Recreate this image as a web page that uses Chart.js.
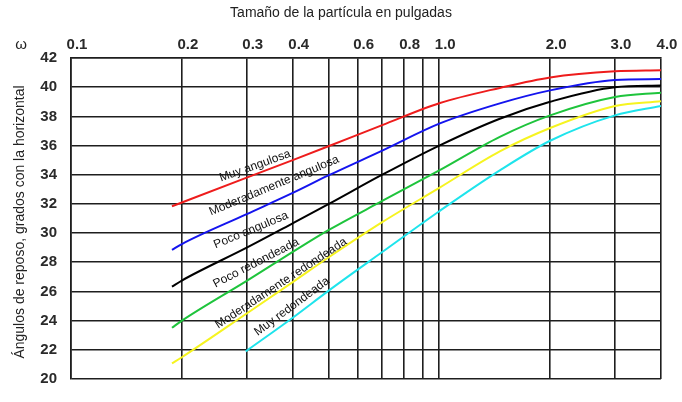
<!DOCTYPE html>
<html>
<head>
<meta charset="utf-8">
<script src="https://cdn.jsdelivr.net/npm/chart.js@4/dist/chart.umd.min.js"></script>
<style>
  html, body { margin: 0; padding: 0; background: #fff; }
  #wrap { width: 682px; height: 402px; }
</style>
</head>
<body>
<div id="wrap"><canvas id="c"></canvas></div>
<script>
// tamaños de partícula (pulgadas)
const sizes = [0.188, 0.2, 0.3, 0.4, 0.5, 0.7, 1.0, 1.46, 2.0, 3.0, 4.0];
const sizesMuyRedondeada = [0.298, 0.4, 0.5, 0.7, 1.0, 1.46, 2.0, 3.0, 4.0];

// ángulos de reposo (grados)
const muyAngulosa = [31.84, 32.1, 33.8, 35.0, 35.95, 37.4, 38.9, 39.95, 40.67, 41.09, 41.16];
const moderadamenteAngulosa = [28.85, 29.25, 31.3, 32.75, 33.95, 35.65, 37.5, 38.89, 39.78, 40.49, 40.56];
const pocoAngulosa = [26.33, 26.75, 29.0, 30.67, 31.98, 34.0, 36.0, 37.84, 39.0, 40.0, 40.11];
const pocoRedondeada = [23.51, 24.0, 26.73, 28.71, 30.2, 32.2, 34.3, 36.6, 38.07, 39.33, 39.62];
const moderadamenteRedondeada = [21.07, 21.49, 24.49, 26.64, 28.33, 30.75, 33.1, 35.6, 37.2, 38.71, 39.04];
const muyRedondeada = [21.89, 24.2, 26.04, 28.7, 31.5, 34.3, 36.33, 38.07, 38.71];

// ejes
const gridSizes = [0.1, 0.2, 0.3, 0.4, 0.5, 0.6, 0.7, 0.8, 0.9, 1.0, 2.0, 3.0, 4.0];
const sizeLabels = { 0.1: "0.1", 0.2: "0.2", 0.3: "0.3", 0.4: "0.4", 0.6: "0.6", 0.8: "0.8", 1: "1.0", 2: "2.0", 3: "3.0", 4: "4.0" };

const FONT = "'Liberation Sans', Arial, sans-serif";

function pts(xs, ys) {
  return xs.map((x, i) => ({ x: x, y: ys[i] }));
}

const series = [
  { name: "Muy angulosa", xs: sizes, ys: muyAngulosa, color: "#ee1c1c", at: [0.316, 34.6], rot: -19.5 },
  { name: "Moderadamente angulosa", xs: sizes, ys: moderadamenteAngulosa, color: "#1414ee", at: [0.356, 33.25], rot: -22.6 },
  { name: "Poco angulosa", xs: sizes, ys: pocoAngulosa, color: "#000000", at: [0.308, 30.2], rot: -22.6 },
  { name: "Poco redondeada", xs: sizes, ys: pocoRedondeada, color: "#1ec43c", at: [0.318, 27.95], rot: -27.3 },
  { name: "Moderadamente redondeada", xs: sizes, ys: moderadamenteRedondeada, color: "#f6f420", at: [0.372, 26.56], rot: -33.4 },
  { name: "Muy redondeada", xs: sizesMuyRedondeada, ys: muyRedondeada, color: "#1ee4ec", at: [0.398, 24.97], rot: -36.7 }
];

// textos fijos y etiquetas de curvas
const textPlugin = {
  id: "textos",
  afterDraw(chart) {
    const ctx = chart.ctx;
    const xs = chart.scales.x, ys = chart.scales.y;
    ctx.save();
    ctx.fillStyle = "#222";
    ctx.textAlign = "center";
    ctx.textBaseline = "middle";
    ctx.font = "14px " + FONT;
    ctx.fillText("Tamaño de la partícula en pulgadas", 341, 13);
    ctx.font = "15px " + FONT;
    ctx.fillText("ω", 21, 45);

    ctx.save();
    ctx.font = "14px " + FONT;
    ctx.translate(20, 222);
    ctx.rotate(-Math.PI / 2);
    ctx.fillText("Ángulos de reposo, grados con la horizontal", 0, 0);
    ctx.restore();

    ctx.font = "12px " + FONT;
    ctx.fillStyle = "#111";
    series.forEach(s => {
      const px = xs.getPixelForValue(s.at[0]);
      const py = ys.getPixelForValue(s.at[1]);
      ctx.save();
      ctx.translate(px, py);
      ctx.rotate(s.rot * Math.PI / 180);
      ctx.fillText(s.name, 0, 0);
      ctx.restore();
    });
    ctx.restore();
  }
};

new Chart(document.getElementById("c"), {
  type: "line",
  data: {
    datasets: series.map(s => ({
      label: s.name,
      data: pts(s.xs, s.ys),
      borderColor: s.color,
      borderWidth: 2,
      pointRadius: 0,
      fill: false,
      cubicInterpolationMode: "monotone"
    }))
  },
  options: {
    responsive: true,
    maintainAspectRatio: false,
    animation: false,
    layout: { padding: { top: 0, left: 0, right: 21, bottom: 12 } },
    plugins: {
      legend: { display: false },
      tooltip: { enabled: false },
      title: { display: false }
    },
    scales: {
      x: {
        type: "logarithmic",
        position: "top",
        min: 0.1,
        max: 4.0,
        afterBuildTicks: scale => {
          scale.ticks = gridSizes.map(v => ({ value: v }));
        },
        afterFit: scale => { scale.height = 58; },
        ticks: {
          autoSkip: false,
          maxRotation: 0,
          padding: 4,
          labelOffset: 6,
          color: "#2a2a2a",
          font: { family: FONT, size: 15, weight: "bold" },
          callback: v => sizeLabels[Math.round(v * 10) / 10] || ""
        },
        grid: { color: "#1e1e1e", lineWidth: 1.6, drawTicks: false },
        border: { color: "#1e1e1e", width: 1.6 }
      },
      y: {
        min: 20,
        max: 42,
        afterFit: scale => { scale.width = 71; },
        ticks: {
          stepSize: 2,
          padding: 14,
          color: "#2a2a2a",
          font: { family: FONT, size: 15, weight: "bold" }
        },
        grid: { color: "#1e1e1e", lineWidth: 1.6, drawTicks: false },
        border: { color: "#1e1e1e", width: 1.6 }
      }
    }
  },
  plugins: [textPlugin]
});
</script>
</body>
</html>
